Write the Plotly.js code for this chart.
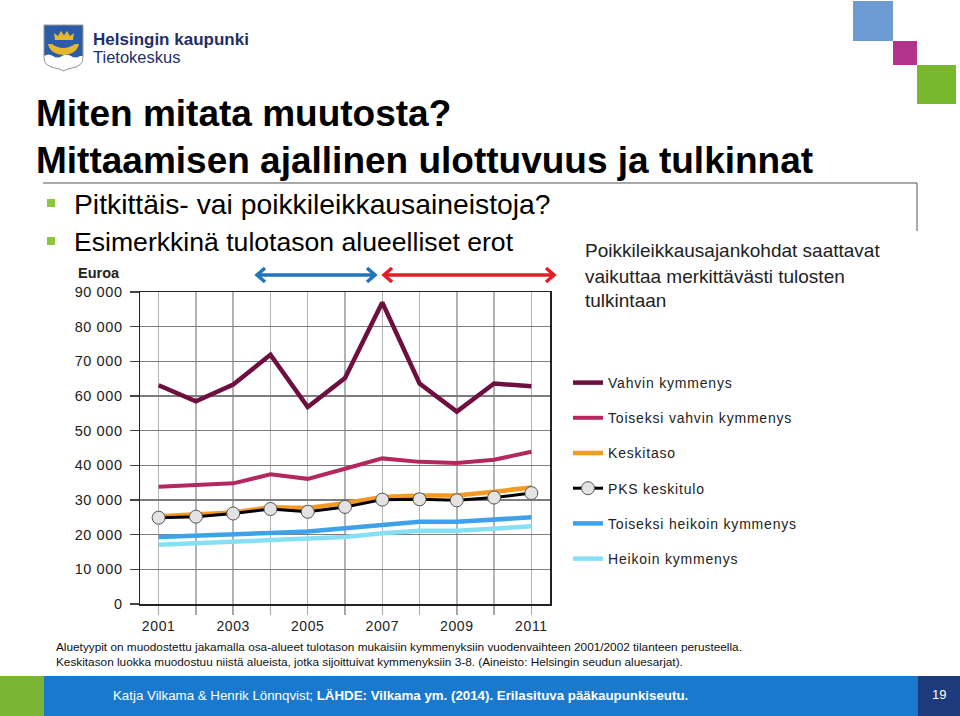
<!DOCTYPE html>
<html><head><meta charset="utf-8">
<script src="https://cdn.plot.ly/plotly-3.0.1.min.js"></script>
<style>
html,body{margin:0;padding:0;background:#fff;}
#chart{width:960px;height:716px;}
.legendtext {letter-spacing:0.8px;}
.xtick text, .ytick text {letter-spacing:0.6px;}
</style></head><body><div id="chart"></div>
<script>
// ---- data ----
const years = [2001, 2002, 2003, 2004, 2005, 2006, 2007, 2008, 2009, 2010, 2011];
const xTickLabels = ['2001', '', '2003', '', '2005', '', '2007', '', '2009', '', '2011'];
const yTickValues = [0, 10000, 20000, 30000, 40000, 50000, 60000, 70000, 80000, 90000];
const seriesNames = ['Vahvin kymmenys', 'Toiseksi vahvin kymmenys', 'Keskitaso', 'PKS keskitulo', 'Toiseksi heikoin kymmenys', 'Heikoin kymmenys'];
const vahvin = [63100, 58500, 63300, 71900, 56800, 65200, 87000, 63600, 55500, 63600, 62800];
const toiseksiVahvin = [33800, 34400, 34800, 37400, 36100, 39000, 42000, 41000, 40700, 41600, 43900];
const keskitaso = [25300, 25700, 26400, 27900, 27700, 29100, 30900, 31300, 31300, 32400, 33600];
const pksKeskitulo = [24900, 25200, 26100, 27400, 26600, 28000, 30100, 30200, 29900, 30700, 32000];
const toiseksiHeikoin = [19300, 19600, 20100, 20500, 20900, 21800, 22600, 23700, 23700, 24300, 25000];
const heikoin = [17100, 17600, 18000, 18600, 18800, 19300, 20400, 21100, 21100, 21600, 22400];

// ---- helpers (decoration only) ----
const W = 960, H = 716;
const px = x => x / W;
const py = y => 1 - y / H;
function rect(x0, y0, x1, y1, color) {
  return {type: 'rect', xref: 'paper', yref: 'paper', x0: px(x0), x1: px(x1), y0: py(y1), y1: py(y0),
          fillcolor: color, line: {width: 0}, layer: 'below'};
}
function pathStr(cmds) {
  return cmds.map(c => {
    const op = c[0]; const nums = c.slice(1);
    if (op === 'Z') return 'Z';
    const pts = [];
    for (let i = 0; i < nums.length; i += 2) pts.push(px(nums[i]).toFixed(5) + ',' + py(nums[i + 1]).toFixed(5));
    return op + pts.join(' ');
  }).join(' ');
}
function pathShape(cmds, fill, lineColor, lineWidth) {
  return {type: 'path', xref: 'paper', yref: 'paper', path: pathStr(cmds),
          fillcolor: fill, line: {color: lineColor || 'rgba(0,0,0,0)', width: lineWidth || 0}};
}
function lineShape(x0, y0, x1, y1, color, width) {
  return {type: 'line', xref: 'paper', yref: 'paper', x0: px(x0), y0: py(y0), x1: px(x1), y1: py(y1),
          line: {color: color, width: width}};
}
function text(t, x, y, size, opts) {
  opts = opts || {};
  return Object.assign({xref: 'paper', yref: 'paper', x: px(x), y: py(y), text: t, showarrow: false,
    xanchor: 'left', yanchor: 'middle', borderpad: 0, align: 'left',
    font: {family: opts.family || '"Liberation Sans", Arial, sans-serif', size: size, color: opts.color || '#111'}}, opts.extra || {});
}
function chevron(x, y, dir, color) {
  const d = 8 * dir;
  return pathShape([['M', x + d, y - 7], ['L', x, y], ['L', x + d, y + 7]], 'rgba(0,0,0,0)', color, 3.5);
}

const shield = [['M', 44, 25], ['L', 83, 25], ['L', 83, 58], ['Q', 83, 66, 72, 68], ['Q', 66, 69, 63.5, 71],
                ['Q', 61, 69, 55, 68], ['Q', 44, 66, 44, 58], ['Z']];
const shapes = [
  // top right squares
  rect(853, 1, 893, 41, '#6b9bd2'),
  rect(893, 41, 917, 65, '#b3338a'),
  rect(917, 65, 956, 104, '#78b82e'),
  // logo shield
  pathShape(shield, '#2a5ca8'),
  pathShape([['M', 44, 56], ['Q', 48.5, 53, 53, 56], ['Q', 57.5, 59, 62, 56], ['Q', 66.5, 53, 71, 56], ['Q', 75.5, 59, 80, 56],
             ['L', 83, 56], ['L', 83, 58], ['Q', 83, 66, 72, 68], ['Q', 66, 69, 63.5, 71], ['Q', 61, 69, 55, 68], ['Q', 44, 66, 44, 58], ['Z']], '#ffffff'),
  pathShape(shield, 'rgba(0,0,0,0)', '#9a9a9a', 1),
  pathShape([['M', 55, 40], ['L', 54, 33], ['L', 58, 36], ['L', 61, 31], ['L', 64, 35.5], ['L', 67, 31], ['L', 70, 36], ['L', 74, 33], ['L', 73, 40], ['Z']], '#e8b62a'),
  pathShape([['M', 48, 44], ['L', 52, 44], ['Q', 63, 52, 75, 44], ['L', 79, 44], ['Q', 77, 54, 63.5, 55], ['Q', 50, 54, 48, 44], ['Z']], '#e8b62a'),
  // text box border
  lineShape(43, 183, 917, 183, '#555', 1),
  lineShape(917, 183, 917, 231, '#555', 1),
  // bullets
  rect(47, 199, 55, 207, '#8dc63f'),
  rect(47, 237, 55, 245, '#8dc63f'),
  // arrows
  lineShape(258, 275, 374, 275, '#1f74bd', 3.5),
  chevron(257, 275, 1, '#1f74bd'),
  chevron(375, 275, -1, '#1f74bd'),
  lineShape(385, 275, 553, 275, '#e31e24', 3.5),
  chevron(384, 275, 1, '#e31e24'),
  chevron(554, 275, -1, '#e31e24'),
  // footer
  rect(0, 676, 44, 716, '#7ab534'),
  rect(44, 676, 918, 716, '#1879cf'),
  rect(918, 676, 960, 716, '#1c3a7c')
];

const annotations = [
  text('<b>Helsingin kaupunki</b>', 92, 39, 17, {color: '#1f2f6b'}),
  text('Tietokeskus', 92, 57, 16.5, {color: '#1f2f6b'}),
  text('<b>Miten mitata muutosta?</b>', 35, 114, 37, {color: '#000'}),
  text('<b>Mittaamisen ajallinen ulottuvuus ja tulkinnat</b>', 35, 160, 37, {color: '#000'}),
  text('Pitkittäis- vai poikkileikkausaineistoja?', 73, 204, 28.3, {color: '#000'}),
  text('Esimerkkinä tulotason alueelliset erot', 73, 242, 26.6, {color: '#000'}),
  text('Poikkileikkausajankohdat saattavat', 584, 250, 19, {color: '#222'}),
  text('vaikuttaa merkittävästi tulosten', 584, 276, 19, {color: '#222'}),
  text('tulkintaan', 584, 301, 19, {color: '#222'}),
  text('<b>Euroa</b>', 77, 273, 14.5, {color: '#222'}),
  text('Aluetyypit on muodostettu jakamalla osa-alueet tulotason mukaisiin kymmenyksiin vuodenvaihteen 2001/2002 tilanteen perusteella.<br>' +
       'Keskitason luokka muodostuu niistä alueista, jotka sijoittuivat kymmenyksiin 3-8. (Aineisto: Helsingin seudun aluesarjat).',
       55, 654.5, 11.8, {color: '#111'}),
  text('Katja Vilkama &amp; Henrik Lönnqvist; <b>LÄHDE: Vilkama ym. (2014). Erilasituva pääkaupunkiseutu.</b>', 112, 695, 13.3, {color: '#fff'}),
  text('19', 939, 694, 13, {color: '#fff', extra: {xanchor: 'center'}})
];

const series = [
  {y: vahvin, color: '#6e0f40', width: 4.5},
  {y: toiseksiVahvin, color: '#b4285f', width: 4},
  {y: keskitaso, color: '#f49a22', width: 4.5},
  {y: pksKeskitulo, color: '#000000', width: 3, marker: true},
  {y: toiseksiHeikoin, color: '#3ea2ea', width: 4.5},
  {y: heikoin, color: '#86e0f4', width: 4.5}
];
const traces = series.map((s, i) => {
  const t = {x: years, y: s.y, name: seriesNames[i], type: 'scatter', mode: s.marker ? 'lines+markers' : 'lines',
    line: {color: s.color, width: s.width}, legendgroup: 'g' + i, hoverinfo: 'skip'};
  if (s.marker) t.marker = {symbol: 'circle', size: 13, color: '#e3e3e3', line: {color: '#555', width: 1}};
  return t;
});

const layout = {
  width: W, height: H, autosize: false,
  margin: {l: 0, r: 0, t: 0, b: 0},
  paper_bgcolor: '#fff', plot_bgcolor: '#fff',
  separators: ', ',
  showlegend: true,
  legend: {x: px(568), y: py(367), xanchor: 'left', yanchor: 'top', bgcolor: 'rgba(0,0,0,0)',
           font: {family: '"Liberation Sans", Arial, sans-serif', size: 14, color: '#222'},
           tracegroupgap: 14, itemwidth: 30},
  xaxis: {domain: [px(140), px(550)], range: [2000.5, 2011.5], tickvals: years, ticktext: xTickLabels,
          ticks: 'outside', ticklen: 9, tickcolor: '#a8a8a8', tickwidth: 1.5,
          showgrid: true, gridcolor: '#b3b3b3', gridwidth: 1.5, zeroline: false,
          showline: true, linecolor: '#222', linewidth: 1.5, mirror: true,
          tickfont: {family: '"Liberation Sans", Arial, sans-serif', size: 14, color: '#222'}, fixedrange: true},
  yaxis: {domain: [1 - 604 / H, 1 - 292 / H], range: [0, 90000], tickvals: yTickValues, tickformat: ',d',
          ticks: 'outside', ticklen: 9, tickcolor: '#444', tickwidth: 1.2, ticklabelstandoff: 4,
          showgrid: true, gridcolor: '#7d7d7d', gridwidth: 1.3, zeroline: false,
          showline: true, linecolor: '#222', linewidth: 1.5, mirror: true,
          tickfont: {family: '"Liberation Sans", Arial, sans-serif', size: 14.5, color: '#222'}, fixedrange: true},
  shapes: shapes,
  annotations: annotations
};
Plotly.newPlot('chart', traces, layout, {staticPlot: true, displayModeBar: false});
</script></body></html>
